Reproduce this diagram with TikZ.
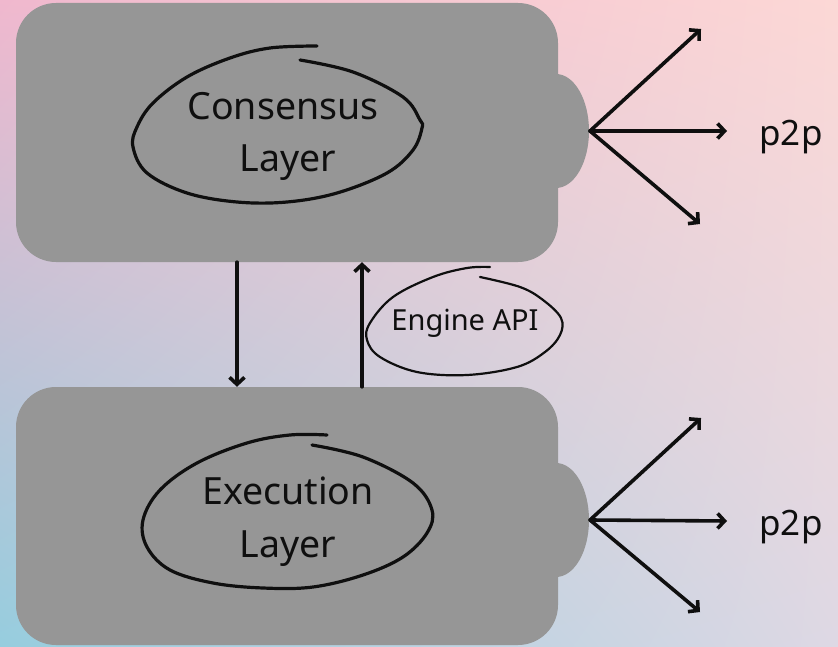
\documentclass[tikz,border=0pt]{standalone}
\usepackage{fontspec}
\setmainfont{Noto Sans}
\usetikzlibrary{arrows.meta,shadings}
\definecolor{boxgray}{RGB}{150,150,150}
\definecolor{ink}{RGB}{15,15,15}
\definecolor{cUL}{RGB}{240,184,206}
\definecolor{cUR}{RGB}{252,216,214}
\definecolor{cLL}{RGB}{150,205,222}
\definecolor{cLR}{RGB}{222,216,228}
\tikzset{
  layerbox/.style={fill=boxgray, rounded corners=40pt, minimum width=542pt, inner sep=0pt},
  arr/.style={draw=ink, line width=3.6pt, line cap=round, -{Straight Barb[length=7pt,width=15pt,line width=3.6pt]}},
  scribble/.style={draw=ink, line width=3.2pt, line cap=round, smooth, tension=0.6},
  lbl/.style={text=ink, inner sep=0pt, anchor=base, font=\fontsize{37.5}{44}\selectfont},
  plbl/.style={text=ink, inner sep=0pt, anchor=base, font=\fontsize{35}{40}\selectfont},
  elbl/.style={text=ink, inner sep=0pt, anchor=base, font=\fontsize{29}{34}\selectfont},
}
\begin{document}
\begin{tikzpicture}[x=1pt,y=-1pt]
\useasboundingbox (0,0) rectangle (838,647);
\shade[upper left=cUL, upper right=cUR, lower left=cLL, lower right=cLR] (0,0) rectangle (838,647);

% boxes
\node[layerbox, minimum height=259pt] (cl) at (287,132.5) {};
\fill[boxgray] (556,131) ellipse [x radius=33, y radius=57];
\node[layerbox, minimum height=258pt] (el) at (287,516) {};
\fill[boxgray] (556,520) ellipse [x radius=33, y radius=57];

% consensus scribble
\draw[scribble] plot coordinates {(300,60) (353,72) (403,97) (420,120) (422,128) (413,150) (387,173) (337,193) (287,202) (237,202) (187,193) (147,173) (133,147) (137,127) (153,103) (187,77) (230,58) (270,48) (317,46)};
\node[lbl] (c1) at (283,120) {Consensus};
\node[lbl] (c2) at (288,172) {Layer};

% execution scribble
\draw[scribble] plot coordinates {(312,445) (363,457) (413,483) (432,510) (427,533) (403,557) (363,575) (313,587) (263,588) (213,583) (170,570) (147,547) (143,520) (160,490) (197,463) (247,443) (290,435) (327,435)};
\node[lbl] (e1) at (288,504) {Execution};
\node[lbl] (e2) at (288,557) {Layer};

% engine api scribble
\draw[scribble, line width=2.2pt] plot coordinates {(480,277) (520,287) (543,300) (561,318) (560,335) (545,352) (517,367) (467,375) (417,372) (380,357) (367,340) (370,323) (393,297) (433,277) (467,268) (490,267)};
\node[elbl] (api) at (465,330) {Engine API};

% vertical arrows
\draw[arr] ([xshift=-50pt]cl.south) -- ([xshift=-50pt]el.north);
\draw[arr] ([xshift=75pt]el.north) -- ([xshift=75pt]cl.south);

% p2p fans
\coordinate (cs) at (590,131);
\coordinate (ct1) at (701,29);
\coordinate (ct2) at (727,131);
\coordinate (ct3) at (700,224);
\draw[arr] (cs) -- (ct1);
\draw[arr] (cs) -- (ct2);
\draw[arr] (cs) -- (ct3);
\node[plbl] (p1) at (791,146) {p2p};

\coordinate (es) at (590,520);
\coordinate (et1) at (701,418);
\coordinate (et2) at (727,521);
\coordinate (et3) at (700,612);
\draw[arr] (es) -- (et1);
\draw[arr] (es) -- (et2);
\draw[arr] (es) -- (et3);
\node[plbl] (p2) at (791,535) {p2p};
\end{tikzpicture}
\end{document}
